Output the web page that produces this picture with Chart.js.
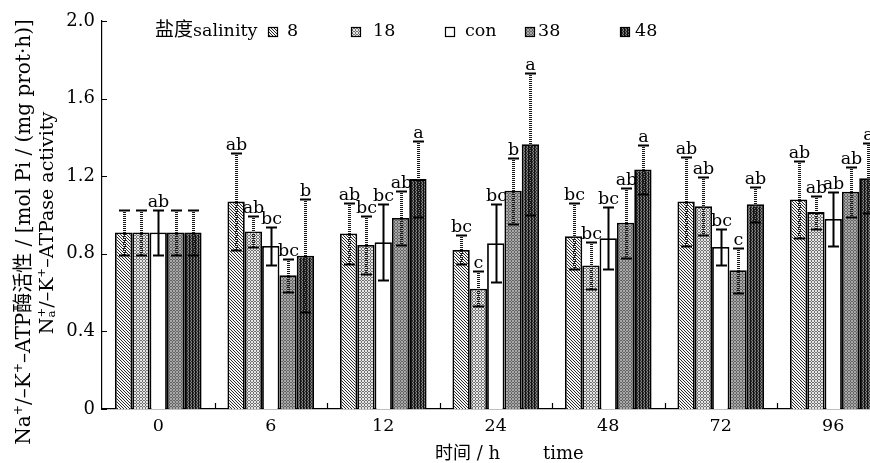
<!DOCTYPE html>
<html>
<head>
<meta charset="utf-8">
<script src="https://cdn.jsdelivr.net/npm/chart.js@4.4.1/dist/chart.umd.min.js"></script>
<style>
html, body { margin: 0; padding: 0; background: #fff; overflow: hidden; }
#wrap { width: 892px; height: 463px; }
</style>
</head>
<body>
<div id="wrap"><canvas id="atpChart" width="892" height="463"></canvas></div>
<script>
/*
* enzyme activity by sampling time, one bar per salinity group,
* with error bars and significance letters above each bar.
*/
const categories = ['0', '6', '12', '24', '48', '72', '96'];
const seriesNames = ['8', '18', 'con', '38', '48'];
const yTicks = [0, 0.4, 0.8, 1.2, 1.6, 2.0];

const mean8   = [0.91, 1.07, 0.905, 0.82, 0.89, 1.07, 1.08];
const mean18  = [0.91, 0.915, 0.845, 0.62, 0.74, 1.045, 1.015];
const meanCon = [0.91, 0.84, 0.86, 0.855, 0.88, 0.835, 0.98];
const mean38  = [0.91, 0.69, 0.985, 1.125, 0.96, 0.715, 1.12];
const mean48  = [0.91, 0.79, 1.185, 1.365, 1.235, 1.055, 1.19];

const err8   = [0.115, 0.25, 0.155, 0.075, 0.17, 0.23, 0.2];
const err18  = [0.115, 0.08, 0.15, 0.09, 0.12, 0.15, 0.085];
const errCon = [0.115, 0.10, 0.195, 0.2, 0.16, 0.095, 0.14];
const err38  = [0.115, 0.085, 0.14, 0.17, 0.18, 0.115, 0.13];
const err48  = [0.115, 0.29, 0.195, 0.365, 0.125, 0.09, 0.18];

const letters8   = ['', 'ab', 'ab', 'bc', 'bc', 'ab', 'ab'];
const letters18  = ['', 'ab', 'bc', 'c', 'bc', 'ab', 'ab'];
const lettersCon = ['ab', 'bc', 'bc', 'bc', 'bc', 'bc', 'ab'];
const letters38  = ['', 'bc', 'ab', 'b', 'ab', 'c', 'ab'];
const letters48  = ['', 'b', 'a', 'a', 'a', 'ab', 'a'];

const means = [mean8, mean18, meanCon, mean38, mean48];
const errs = [err8, err18, errCon, err38, err48];
const letters = [letters8, letters18, lettersCon, letters38, letters48];

const SERIF = '"DejaVu Serif", "Noto Sans CJK SC", serif';

/*
* builds the little fill textures for the bars, one per salinity group.
*/
function makePattern(kind) {
    const tile = document.createElement('canvas');
    tile.width = 3;
    tile.height = 3;
    const t = tile.getContext('2d');
    const px = (x, y, c) => { t.fillStyle = c; t.fillRect(x, y, 1, 1); };
    for (let y = 0; y < 3; y++) {
        for (let x = 0; x < 3; x++) {
            if (kind === 'hatch') {
                px(x, y, x === y ? '#2a2a2a' : '#f6f6f6');
            } else if (kind === 'light') {
                px(x, y, (x + y) % 2 === 0 ? '#e6e6e6' : '#707070');
            } else if (kind === 'mid') {
                px(x, y, (x + y) % 2 === 0 ? '#a8a8a8' : '#646464');
            } else if (kind === 'dark') {
                px(x, y, x === 0 ? '#111' : ((x + y) % 2 === 0 ? '#808080' : '#2e2e2e'));
            } else {
                px(x, y, '#ffffff');
            }
        }
    }
    return document.getElementById('atpChart').getContext('2d').createPattern(tile, 'repeat');
}

const patterns = [makePattern('hatch'), makePattern('light'), makePattern('white'),
    makePattern('mid'), makePattern('dark')];

/*
* draws a line of text with raised / lowered bits, centered on cx.
*/
function drawRich(ctx, parts, cx, cy, size) {
    const small = size * 0.62;
    const font = s => `${s}px ${SERIF}`;
    let total = 0;
    const widths = parts.map(([txt, kind]) => {
        ctx.font = font(kind ? small : size);
        let w;
        if (kind === 'stack') {
            w = Math.max(...txt.split('').map(c => ctx.measureText(c).width));
        } else {
            w = ctx.measureText(txt).width;
        }
        total += w;
        return w;
    });
    let x = cx - total / 2;
    parts.forEach(([txt, kind], i) => {
        ctx.font = font(kind ? small : size);
        if (kind === 'sup') {
            ctx.fillText(txt, x, cy - size * 0.33);
        } else if (kind === 'stack') {
            ctx.fillText(txt[0], x, cy - size * 0.33);
            ctx.fillText(txt[1], x, cy + size * 0.22);
        } else {
            ctx.fillText(txt, x, cy);
        }
        x += widths[i];
    });
}

const decorPlugin = {
    id: 'decor',
    afterDatasetsDraw(chart) {
        const ctx = chart.ctx;
        const yScale = chart.scales.y;
        const xScale = chart.scales.x;
        const area = chart.chartArea;

        ctx.save();
        // error bars
        chart.data.datasets.forEach((ds, i) => {
            const meta = chart.getDatasetMeta(i);
            meta.data.forEach((bar, j) => {
                const top = Math.round(yScale.getPixelForValue(means[i][j] + errs[i][j])) + 0.5;
                const bot = Math.round(yScale.getPixelForValue(means[i][j] - errs[i][j])) + 0.5;
                const x = Math.round(bar.x) + 0.5;
                if (i === 2) {
                    ctx.setLineDash([]);
                    ctx.strokeStyle = '#000';
                    ctx.lineWidth = 2;
                } else {
                    ctx.setLineDash([1, 1]);
                    ctx.strokeStyle = '#1a1a1a';
                    ctx.lineWidth = 3;
                }
                ctx.beginPath();
                ctx.moveTo(x, top - 0.5);
                ctx.lineTo(x, bot - 0.5);
                ctx.stroke();
                ctx.setLineDash([]);
                ctx.strokeStyle = '#000';
                ctx.lineWidth = 1.8;
                ctx.beginPath();
                ctx.moveTo(x - 5.5, top);
                ctx.lineTo(x + 5.5, top);
                ctx.moveTo(x - 5.5, bot);
                ctx.lineTo(x + 5.5, bot);
                ctx.stroke();

                // significance letters
                const lab = letters[i][j];
                if (lab) {
                    ctx.fillStyle = '#000';
                    ctx.font = `17.5px ${SERIF}`;
                    ctx.textAlign = 'center';
                    ctx.textBaseline = 'alphabetic';
                    ctx.fillText(lab, x, top - 4);
                }
            });
        });

        // inward ticks
        ctx.strokeStyle = '#000';
        ctx.lineWidth = 1.2;
        ctx.beginPath();
        yTicks.forEach(v => {
            const y = Math.round(yScale.getPixelForValue(v)) + 0.5;
            ctx.moveTo(area.left, y);
            ctx.lineTo(area.left + 5, y);
        });
        const step = (xScale.right - xScale.left) / categories.length;
        for (let k = 1; k < categories.length; k++) {
            const x = Math.round(xScale.left + k * step) + 0.5;
            ctx.moveTo(x, area.bottom);
            ctx.lineTo(x, area.bottom - 6);
        }
        ctx.stroke();

        // legend inside the plot
        ctx.fillStyle = '#000';
        ctx.textAlign = 'left';
        ctx.textBaseline = 'middle';
        ctx.font = `19px ${SERIF}`;
        ctx.fillText('盐度', 155, 31);
        ctx.font = `17.5px ${SERIF}`;
        ctx.fillText('salinity', 193, 31);
        const boxX = [268, 351, 445, 525, 620];
        const textX = [287, 373, 465, 538, 635];
        seriesNames.forEach((name, i) => {
            ctx.fillStyle = patterns[i];
            ctx.fillRect(boxX[i], 27, 10, 10);
            ctx.strokeStyle = '#000';
            ctx.lineWidth = 1.2;
            ctx.strokeRect(boxX[i] + 0.5, 27.5, 9, 9);
            ctx.fillStyle = '#000';
            ctx.fillText(name, textX[i], 31);
        });

        // axis titles
        ctx.save();
        ctx.translate(25, 232);
        ctx.rotate(-Math.PI / 2);
        ctx.textAlign = 'left';
        ctx.textBaseline = 'middle';
        drawRich(ctx, [['Na', ''], ['+', 'sup'], ['/–K', ''], ['+', 'sup'],
            ['–ATP酶活性 / [mol Pi / (mg prot·h)]', '']], 0, 0, 20);
        ctx.restore();
        ctx.save();
        ctx.translate(48, 223);
        ctx.rotate(-Math.PI / 2);
        ctx.textAlign = 'left';
        ctx.textBaseline = 'middle';
        drawRich(ctx, [['N', ''], ['+a', 'stack'], ['/–K', ''], ['+', 'sup'],
            ['–ATPase activity', '']], 0, 0, 19);
        ctx.restore();

        ctx.textAlign = 'left';
        ctx.textBaseline = 'middle';
        ctx.font = `18px ${SERIF}`;
        ctx.fillText('时间 / h', 435, 454);
        ctx.fillText('time', 543, 454);
        ctx.restore();
    }
};

const chartData = {
    labels: categories,
    datasets: seriesNames.map((name, i) => ({
        label: name,
        data: means[i],
        backgroundColor: patterns[i],
        borderColor: '#000',
        borderWidth: 1.8,
        categoryPercentage: 0.77,
        barPercentage: 1.0
    }))
};

const chartOptions = {
    responsive: false,
    animation: false,
    devicePixelRatio: 1,
    layout: {
        padding: { left: 62, right: 2.5, top: 21, bottom: 0 }
    },
    plugins: {
        legend: { display: false },
        tooltip: { enabled: false }
    },
    scales: {
        x: {
            grid: { display: false, drawTicks: false },
            border: { display: true, color: '#000', width: 1.2 },
            ticks: {
                color: '#000',
                padding: 7,
                font: { family: SERIF, size: 17.5 }
            },
            afterFit: scale => { scale.height = 54; }
        },
        y: {
            min: 0,
            max: 2.0,
            grid: { display: false, drawTicks: false },
            border: { display: true, color: '#000', width: 1.2 },
            afterBuildTicks: scale => {
                scale.ticks = yTicks.map(v => ({ value: v }));
            },
            ticks: {
                color: '#000',
                padding: 7,
                font: { family: SERIF, size: 18 },
                callback: function(value) {
                    return value === 0 ? '0' : value.toFixed(1);
                }
            },
            afterFit: scale => { scale.width = 40; }
        }
    }
};

Chart.defaults.font.family = SERIF;

new Chart(document.getElementById('atpChart'), {
    type: 'bar',
    data: chartData,
    options: chartOptions,
    plugins: [decorPlugin]
});
</script>
</body>
</html>
